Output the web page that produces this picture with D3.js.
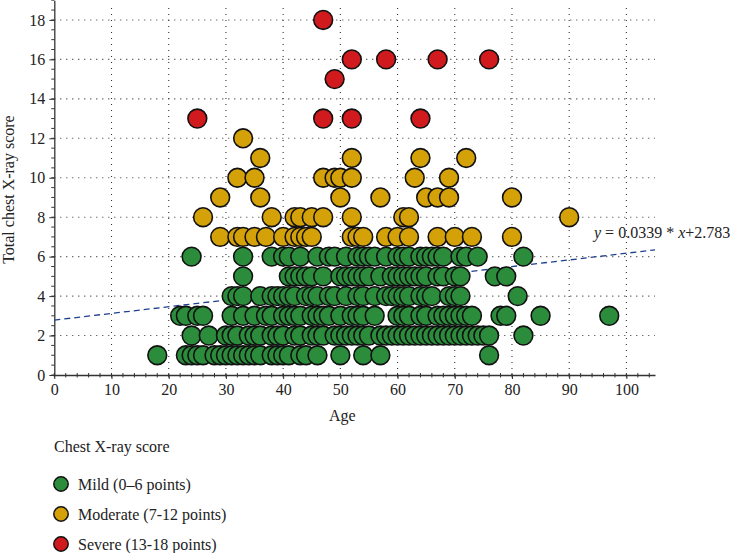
<!DOCTYPE html>
<html><head><meta charset="utf-8">
<script src="https://cdn.jsdelivr.net/npm/d3@7"></script>
<style>body{margin:0;background:#fff}svg{display:block}text{font-family:"Liberation Serif","DejaVu Serif",serif;fill:#222}</style>
</head><body><svg id="c" width="733" height="553"></svg>
<script>
// Data: each category maps chest X-ray score -> list of ages
const mild = {
  1: [18,23,24,25,26,28,29,30,31,32,33,34,35,36,38,39,40,41,43,44,46,50,54,57,76],
  2: [24,27,30,31,32,34,35,36,38,39,40,42,43,45,46,47,49,50,51,52,53,54,55,57,58,59,60,61,62,63,64,65,66,67,68,69,70,71,72,73,74,75,76,82],
  3: [22,23,25,26,31,33,35,37,38,40,41,42,43,45,46,47,48,50,52,53,54,56,60,61,62,64,65,67,68,69,70,71,72,73,78,79,85,97],
  4: [31,32,33,36,38,39,40,41,42,44,45,46,48,49,51,53,54,56,58,59,60,61,62,64,65,66,69,70,71,81],
  5: [33,41,42,43,44,45,47,50,51,52,53,54,55,57,59,60,61,62,63,64,65,67,68,70,71,77,79],
  6: [24,33,38,40,41,43,46,48,49,51,53,54,55,56,58,60,61,62,64,65,66,67,68,71,72,74,82]
};
const moderate = {
  7: [29,32,33,35,37,40,42,43,44,45,52,53,54,58,60,62,67,70,73,80],
  8: [26,38,42,43,45,47,52,61,62,90],
  9: [29,36,50,57,65,67,69,80],
  10: [32,35,47,49,50,52,63,69],
  11: [36,52,64,72],
  12: [33]
};
const severe = {
  13: [25,47,52,64],
  15: [49],
  16: [52,58,67,76],
  18: [47]
};
const categories = ["Mild (0\u20136 points)", "Moderate (7-12 points)", "Severe (13-18 points)"];
const colors = ["#2b8c3c", "#d4a108", "#d11a1d"];
const xTicks = [0,10,20,30,40,50,60,70,80,90,100];
const yTicks = [0,2,4,6,8,10,12,14,16,18];
const slope = 0.0339, intercept = 2.783;
const eqLabel = ["y", " = 0.0339 * ", "x", "+2.783"];

function flatten(obj){ const out=[]; Object.keys(obj).forEach(k=>obj[k].forEach(a=>out.push({age:a,score:+k}))); return out; }
const groups = [flatten(mild), flatten(moderate), flatten(severe)];

const svg = d3.select("#c");
const x = d3.scaleLinear().domain([0,105]).range([54.3, 655]);
const y = d3.scaleLinear().domain([0,19]).range([375, 0.2]);
const FS = "16px";

// grid
const grid = svg.append("g").attr("stroke","#333").attr("stroke-width",1.1).attr("stroke-dasharray","1,5");
grid.selectAll(".vx").data(xTicks.filter(d=>d>0)).join("line")
  .attr("x1",d=>x(d)).attr("x2",d=>x(d)).attr("y1",y(0)).attr("y2",y(18.7));
grid.selectAll(".hy").data(yTicks.filter(d=>d>0)).join("line")
  .attr("x1",x(0)).attr("x2",x(105)).attr("y1",d=>y(d)).attr("y2",d=>y(d));

// axes
const xAxis = d3.axisBottom(x).tickValues(xTicks).tickSize(4).tickPadding(5).tickSizeOuter(0);
const yAxis = d3.axisLeft(y).tickValues(yTicks).tickSize(5).tickPadding(4).tickSizeOuter(0);
const gx = svg.append("g").attr("transform",`translate(0,${y(0)})`).call(xAxis);
const gy = svg.append("g").attr("transform",`translate(${x(0)},0)`).call(yAxis);
// minor ticks
gx.append("g").selectAll("line").data(d3.range(0,106,2)).join("line")
  .attr("x1",d=>x(d)).attr("x2",d=>x(d)).attr("y1",-2).attr("y2",2.5).attr("stroke","#333");
gy.append("g").selectAll("line").data(d3.range(0,19.01,0.5)).join("line")
  .attr("y1",d=>y(d)).attr("y2",d=>y(d)).attr("x1",-3).attr("x2",0).attr("stroke","#333");
[gx,gy].forEach(g=>{
  g.select(".domain").attr("stroke","#333").attr("stroke-width",1.3);
  g.selectAll(".tick line").attr("stroke","#333");
  g.selectAll(".tick text").style("font-family",'"Liberation Serif",serif').style("font-size",FS).attr("fill","#222");
});

// regression line
svg.append("line")
  .attr("x1",x(0)).attr("y1",y(intercept))
  .attr("x2",x(105)).attr("y2",y(intercept+slope*105))
  .attr("stroke","#1f3f8f").attr("stroke-width",1.3).attr("stroke-dasharray","6,4");

// points
groups.forEach((pts,i)=>{
  svg.append("g").selectAll("circle").data(pts).join("circle")
    .attr("cx",d=>x(d.age)).attr("cy",d=>y(d.score)).attr("r",9.4)
    .attr("fill",colors[i]).attr("stroke","#111").attr("stroke-width",1.6);
});

// equation
const eq = svg.append("text").attr("x",594).attr("y",238).style("font-size",FS);
eqLabel.forEach((t,i)=>eq.append("tspan").text(t).style("font-style",(i%2===0)?"italic":"normal"));

// axis titles
svg.append("text").attr("x",x(50)+2).attr("y",421).attr("text-anchor","middle").style("font-size",FS).text("Age");
svg.append("text").attr("transform",`translate(14,${y(9.4)}) rotate(-90)`).attr("text-anchor","middle").style("font-size",FS).text("Total chest X-ray score");

// legend
svg.append("text").attr("x",54).attr("y",452).style("font-size",FS).text("Chest X-ray score");
const lg = svg.append("g").selectAll("g").data(categories).join("g")
  .attr("transform",(d,i)=>`translate(0,${484+i*30})`);
lg.append("circle").attr("cx",61).attr("cy",0).attr("r",7.2).attr("fill",(d,i)=>colors[i]).attr("stroke","#111").attr("stroke-width",1.5);
lg.append("text").attr("x",78).attr("y",5.5).style("font-size",FS).text(d=>d);
</script></body></html>
